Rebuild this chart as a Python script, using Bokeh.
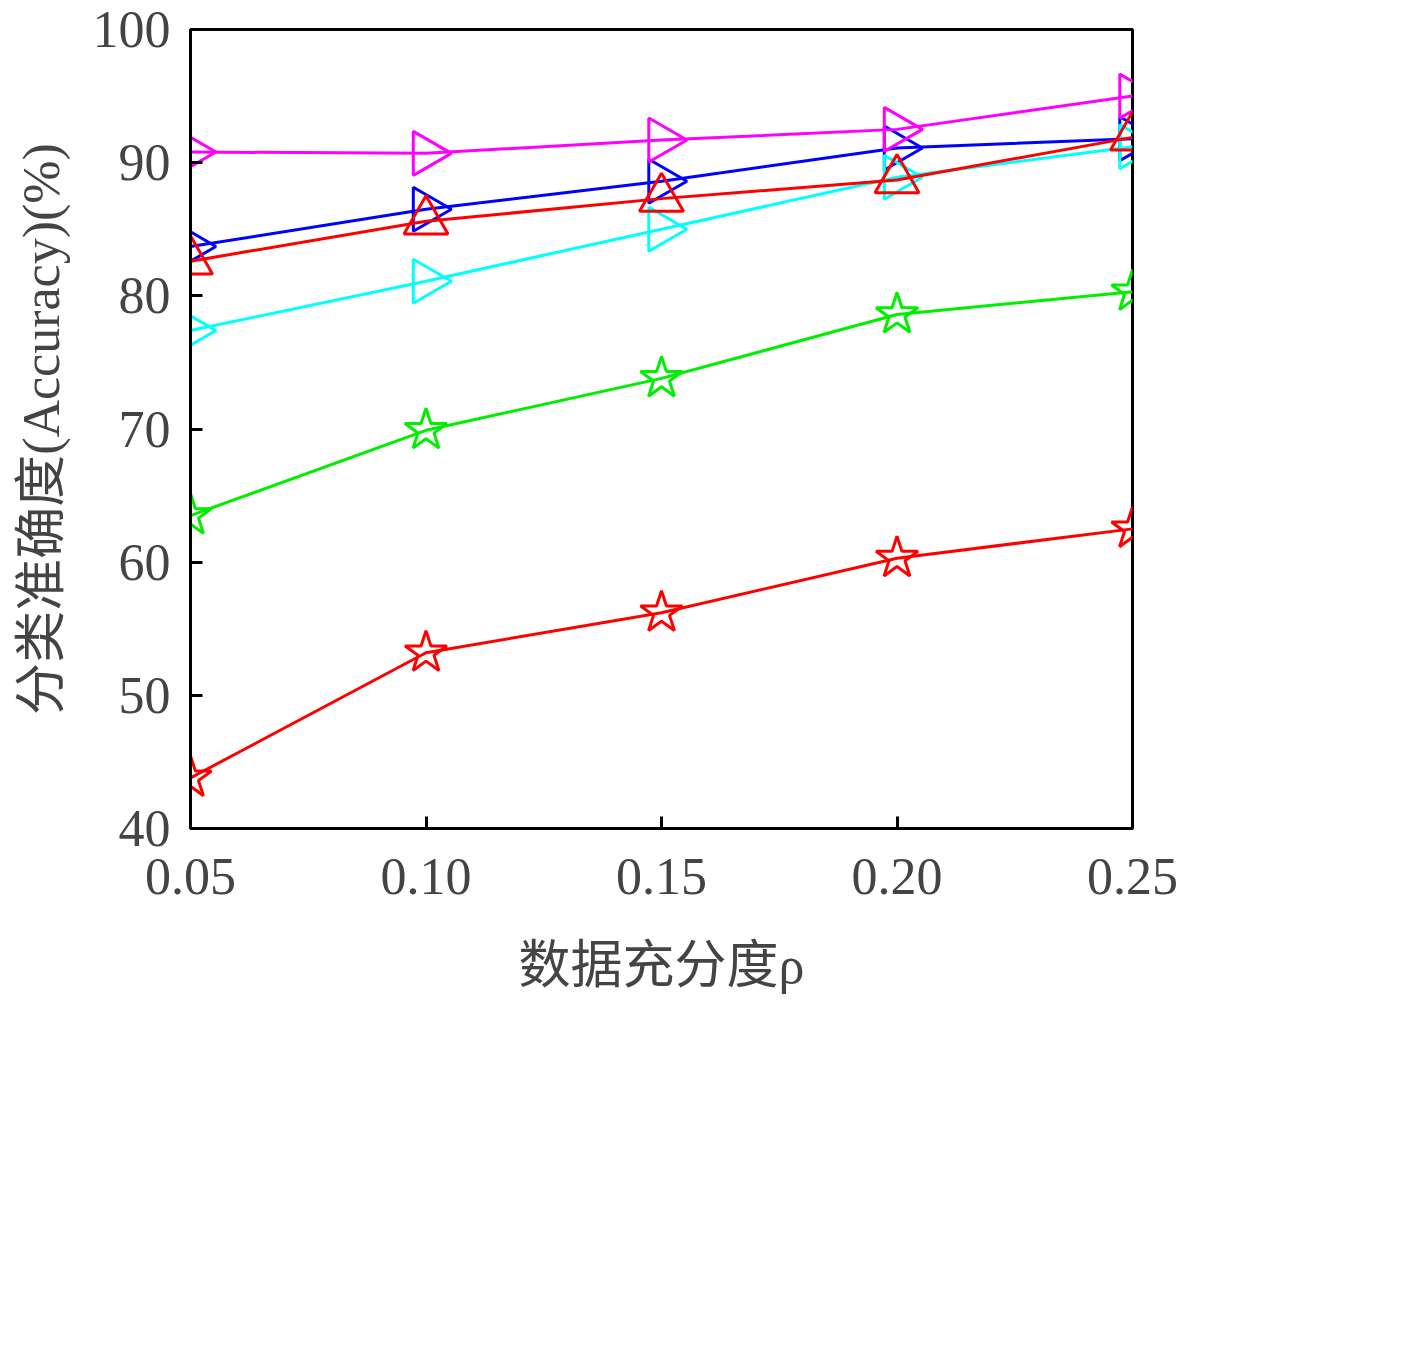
import math
from bokeh.plotting import figure
from bokeh.models import Legend, LegendItem, FixedTicker
from bokeh.embed import file_html
from bokeh.resources import INLINE

x = [0.05, 0.10, 0.15, 0.20, 0.25]
svm_idw = [43.8, 53.2, 56.2, 60.3, 62.5]
svm_krig = [63.5, 69.9, 73.8, 78.6, 80.3]
samp_idw = [83.7, 86.5, 88.6, 91.1, 91.8]
samp_krig = [90.8, 90.7, 91.7, 92.5, 95.0]
proto_idw = [77.4, 81.1, 85.0, 88.9, 91.2]
proto_krig = [82.6, 85.6, 87.3, 88.7, 91.9]
xticks = [0.05, 0.10, 0.15, 0.20, 0.25]
xlabels = {0.05: "0.05", 0.10: "0.10", 0.15: "0.15", 0.20: "0.20", 0.25: "0.25"}

FONT = "'Liberation Serif', 'DejaVu Serif', 'Noto Sans CJK SC'"

p = figure(output_backend="svg", toolbar_location=None, frame_width=942, frame_height=799,
           x_range=(0.05, 0.25), y_range=(40, 100), min_border_left=190, min_border_top=29,
           min_border_right=150)
p.background_fill_color = "white"
p.outline_line_color = "black"
p.outline_line_width = 3
p.grid.visible = False

series = [
    ("SVM, IDW", svm_idw, "red", "star", 0),
    ("SVM, Kriging", svm_krig, "#00ee00", "star", 0),
    ("基于样例, IDW", samp_idw, "blue", "triangle", -math.pi / 2),
    ("基于样例, Kriging", samp_krig, "magenta", "triangle", -math.pi / 2),
    ("基于原型, IDW", proto_idw, "cyan", "triangle", -math.pi / 2),
    ("基于原型, Kriging", proto_krig, "red", "triangle", 0),
]
items = {}
for name, ys, c, m, a in series:
    r1 = p.line(x, ys, line_color=c, line_width=3)
    r2 = p.scatter(x, ys, marker=m, size=44, angle=a, line_color=c, line_width=3, fill_alpha=0)
    items[name] = LegendItem(label=name, renderers=[r1, r2])

order = ["SVM, IDW", "基于样例, Kriging", "SVM, Kriging", "基于原型, IDW", "基于样例, IDW", "基于原型, Kriging"]
leg = Legend(items=[items[k] for k in order], ncols=2, location="center",
             label_text_font=FONT, label_text_font_size="46px", glyph_width=120, glyph_height=44,
             spacing=14, label_standoff=20, border_line_alpha=0, margin=20, padding=0)
p.add_layout(leg, "below")

for ax in (p.xaxis[0], p.yaxis[0]):
    ax.axis_line_width = 3
    ax.major_tick_in = 12
    ax.major_tick_out = 0
    ax.minor_tick_line_color = None
    ax.major_tick_line_width = 3
    ax.major_label_text_font = FONT
    ax.major_label_text_font_size = "52px"
    ax.axis_label_text_font = FONT
    ax.axis_label_text_font_size = "52px"
    ax.axis_label_text_font_style = "normal"
p.xaxis.ticker = FixedTicker(ticks=xticks)
p.xaxis.major_label_overrides = xlabels
p.xaxis.major_label_standoff = 30
p.xaxis.axis_label = "数据充分度ρ"
p.xaxis.axis_label_standoff = 40
p.yaxis.ticker = FixedTicker(ticks=[40, 50, 60, 70, 80, 90, 100])
p.yaxis.major_label_standoff = 20
p.yaxis.axis_label = "分类准确度(Accuracy)(%)"
p.yaxis.axis_label_standoff = 20

open("out.html", "w").write(file_html(p, INLINE))
